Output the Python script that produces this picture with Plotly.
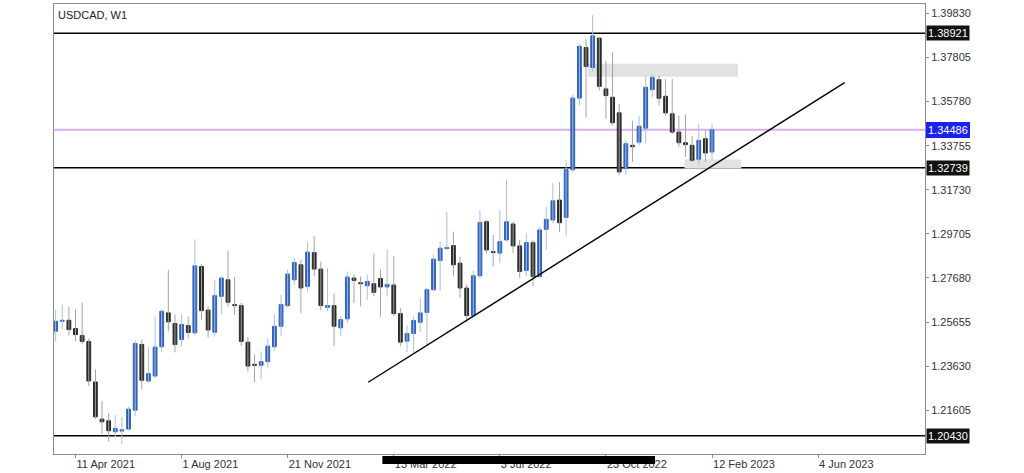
import pandas as pd
import plotly.graph_objects as go

# ---------------- data ----------------
dates = pd.date_range("2021-03-21", periods=100, freq="7D")

open_ = [1.25233, 1.25690, 1.25736, 1.25356, 1.25036, 1.24762, 1.22901, 1.21196, 1.21118, 1.20615,
         1.20647, 1.20738, 1.21607, 1.24625, 1.22947, 1.23175, 1.24520, 1.26074, 1.25585, 1.24853,
         1.25493, 1.25160, 1.28204, 1.26202, 1.25187, 1.26833, 1.27596, 1.26453, 1.26408, 1.24730,
         1.23710, 1.23665, 1.23834, 1.24520, 1.25461, 1.26408, 1.27596, 1.28283, 1.27290, 1.28845,
         1.28086, 1.26330, 1.26408, 1.25388, 1.25800, 1.27674, 1.27459, 1.27322, 1.27413, 1.27656,
         1.27263, 1.27354, 1.26042, 1.24776, 1.25128, 1.25644, 1.26101, 1.27139, 1.28479, 1.29027,
         1.29165, 1.28360, 1.27217, 1.25950, 1.27779, 1.30262, 1.28890, 1.28817, 1.29425, 1.30157,
         1.29151, 1.28022, 1.29302, 1.27747, 1.29914, 1.30340, 1.31254, 1.30463, 1.32649, 1.35940,
         1.38263, 1.37348, 1.38693, 1.36361, 1.35977, 1.35264, 1.32703, 1.33769, 1.33919, 1.34559,
         1.36329, 1.36786, 1.36023, 1.35218, 1.34377, 1.33889, 1.33769, 1.33129, 1.34075, 1.33462]
high = [1.26225, 1.26453, 1.26360, 1.26225, 1.26545, 1.24899, 1.23482, 1.22032, 1.21470, 1.21378,
        1.21287, 1.21758, 1.24821, 1.24853, 1.24487, 1.25905, 1.26225, 1.28054, 1.25996, 1.25996,
        1.25905, 1.29457, 1.28328, 1.26376, 1.27596, 1.27747, 1.28936, 1.27733, 1.26531, 1.24967,
        1.24167, 1.24304, 1.24931, 1.25996, 1.26911, 1.28054, 1.28589, 1.28511, 1.29347, 1.29608,
        1.28433, 1.28131, 1.26956, 1.25918, 1.27976, 1.27828, 1.27747, 1.27828, 1.28785, 1.28054,
        1.29000, 1.28694, 1.26303, 1.25493, 1.25918, 1.26760, 1.27217, 1.28739, 1.29347, 1.30719,
        1.29805, 1.28662, 1.27368, 1.28008, 1.30797, 1.30340, 1.29654, 1.30797, 1.32200, 1.30262,
        1.29425, 1.29732, 1.29425, 1.30033, 1.30948, 1.32045, 1.32091, 1.33083, 1.36100, 1.38418,
        1.38647, 1.39744, 1.38766, 1.37655, 1.38034, 1.35675, 1.33997, 1.34912, 1.35140, 1.36969,
        1.37047, 1.36969, 1.36818, 1.36818, 1.35140, 1.35172, 1.34194, 1.34761, 1.34454, 1.34761]
low = [1.24775, 1.25310, 1.25036, 1.24775, 1.24625, 1.22718, 1.21196, 1.20510, 1.20158, 1.20373,
       1.20053, 1.20661, 1.21346, 1.22567, 1.22874, 1.23070, 1.24272, 1.25233, 1.24259, 1.24547,
       1.24899, 1.25036, 1.25768, 1.24945, 1.24990, 1.25996, 1.26360, 1.25973, 1.24547, 1.23390,
       1.22887, 1.23024, 1.23573, 1.24318, 1.24990, 1.26303, 1.27368, 1.26074, 1.27061, 1.27747,
       1.26193, 1.26147, 1.24547, 1.25004, 1.25617, 1.26531, 1.26376, 1.26682, 1.26833, 1.25891,
       1.26833, 1.25918, 1.24547, 1.24272, 1.24245, 1.25187, 1.24579, 1.27061, 1.27107, 1.28968,
       1.27747, 1.26760, 1.25676, 1.25859, 1.27674, 1.28817, 1.28204, 1.28360, 1.29347, 1.28817,
       1.27674, 1.27747, 1.27290, 1.27674, 1.28968, 1.30189, 1.29805, 1.29576, 1.32548, 1.35597,
       1.35062, 1.37152, 1.36283, 1.34989, 1.34683, 1.32397, 1.32397, 1.33005, 1.33769, 1.33846,
       1.35977, 1.35597, 1.35140, 1.34304, 1.33691, 1.33234, 1.33005, 1.32854, 1.33005, 1.33083]
close = [1.25690, 1.25736, 1.25310, 1.25082, 1.24762, 1.22947, 1.21301, 1.21072, 1.20661, 1.20770,
         1.20706, 1.21653, 1.24670, 1.22979, 1.23285, 1.24501, 1.26147, 1.25662, 1.24625, 1.25539,
         1.25173, 1.28236, 1.26179, 1.25288, 1.26865, 1.27674, 1.26559, 1.26408, 1.24762, 1.23632,
         1.23665, 1.23834, 1.24547, 1.25461, 1.26453, 1.27857, 1.28387, 1.27217, 1.28863, 1.28086,
         1.26408, 1.26408, 1.25461, 1.25768, 1.27720, 1.27564, 1.27413, 1.27519, 1.27016, 1.27263,
         1.27382, 1.26042, 1.24730, 1.25128, 1.25722, 1.26074, 1.27139, 1.28543, 1.29046, 1.29073,
         1.28282, 1.27217, 1.25950, 1.27779, 1.30234, 1.28968, 1.28845, 1.29347, 1.30262, 1.29151,
         1.27976, 1.29302, 1.27747, 1.29882, 1.30372, 1.31222, 1.30216, 1.32658, 1.35940, 1.38318,
         1.37394, 1.38798, 1.36480, 1.36055, 1.34806, 1.32548, 1.33846, 1.33709, 1.34651, 1.36434,
         1.36891, 1.35931, 1.35264, 1.34377, 1.33889, 1.33801, 1.33083, 1.33997, 1.33416, 1.34486]

price_ticks = [1.21605, 1.23630, 1.25655, 1.27680, 1.29705, 1.31730, 1.33755, 1.35780, 1.37805, 1.39830]
date_ticks = ["2021-04-11", "2021-08-01", "2021-11-21", "2022-03-13",
              "2022-07-03", "2022-10-23", "2023-02-12", "2023-06-04"]
date_labels = ["11 Apr 2021", "1 Aug 2021", "21 Nov 2021", "13 Mar 2022",
               "3 Jul 2022", "23 Oct 2022", "12 Feb 2023", "4 Jun 2023"]

levels_black = [1.38921, 1.32739, 1.20430]
level_current = 1.34486

zone_upper = (["2022-10-04", "2023-03-11 12:00"], [1.36923, 1.37518])
zone_lower = (["2023-01-14", "2023-03-15"], [1.32703, 1.33115])
trend_pts = (["2022-02-14", "2023-07-02"], [1.22887, 1.36649])

x_range = ["2021-03-19 07:00", "2023-09-24 21:00"]
y_range = [1.19593, 1.40261]

# ---------------- styling ----------------
BULL = "#2e62b9"
BEAR = "#2a2a2a"
BULL_WICK = "#a9bee4"
BEAR_WICK = "#a3a3a3"
AXIS = "#8c8c8c"
TXT = "#333333"
FONT = "Liberation Sans, Arial, sans-serif"

bull_idx = [i for i in range(len(dates)) if close[i] >= open_[i]]
bear_idx = [i for i in range(len(dates)) if close[i] < open_[i]]


def wick_xy(idx):
    xs, ys = [], []
    for i in idx:
        xs += [dates[i], dates[i], None]
        ys += [low[i], high[i], None]
    return xs, ys


fig = go.Figure()
for idx, col in ((bull_idx, BULL_WICK), (bear_idx, BEAR_WICK)):
    wx, wy = wick_xy(idx)
    fig.add_trace(go.Scatter(x=wx, y=wy, mode="lines", line=dict(color=col, width=1),
                             hoverinfo="skip", showlegend=False))

body_w = 4.0 * 86400000
for idx, col in ((bull_idx, BULL), (bear_idx, BEAR)):
    fig.add_trace(go.Bar(
        x=[dates[i] for i in idx],
        base=[min(open_[i], close[i]) for i in idx],
        y=[abs(close[i] - open_[i]) for i in idx],
        width=[body_w] * len(idx),
        marker=dict(color=col, line=dict(color=col, width=1)),
        showlegend=False, hoverinfo="skip"))

shapes = []
# supply/demand zones
for (zx, zy) in (zone_upper, zone_lower):
    shapes.append(dict(type="rect", xref="x", yref="y", x0=zx[0], x1=zx[1], y0=zy[0], y1=zy[1],
                       fillcolor="#e2e2e2", line=dict(width=0), layer="below"))
# horizontal levels
for lv in levels_black:
    shapes.append(dict(type="line", xref="paper", yref="y", x0=0, x1=1, y0=lv, y1=lv,
                       line=dict(color="#000000", width=1.6), layer="below"))
shapes.append(dict(type="line", xref="paper", yref="y", x0=0, x1=1, y0=level_current, y1=level_current,
                   line=dict(color="#d8b0ea", width=2), layer="below"))
# trend line
shapes.append(dict(type="line", xref="x", yref="y", x0=trend_pts[0][0], x1=trend_pts[0][1],
                   y0=trend_pts[1][0], y1=trend_pts[1][1], line=dict(color="#000000", width=1.4),
                   layer="above"))
# redaction scribble over part of the time axis
shapes.append(dict(type="line", xref="paper", yref="paper", x0=0.377, x1=0.690, y0=-0.0135, y1=-0.0135,
                   line=dict(color="#000000", width=8), layer="above"))

annotations = [dict(text="USDCAD, W1", xref="paper", yref="paper", x=0, y=1, xanchor="left", yanchor="top",
                    xshift=2, yshift=-3, showarrow=False, font=dict(family=FONT, size=11, color="#222222"))]
for lv in levels_black:
    annotations.append(dict(text=f"{lv:.5f}", xref="paper", yref="y", x=1, y=lv, xanchor="left",
                            yanchor="middle", xshift=1, showarrow=False, bgcolor="#111111", borderpad=1,
                            font=dict(family=FONT, size=11, color="#ffffff")))
annotations.append(dict(text=f"{level_current:.5f}", xref="paper", yref="y", x=1, y=level_current,
                        xanchor="left", yanchor="middle", xshift=1, showarrow=False, bgcolor="#1c22ee",
                        bordercolor="#1c22ee", borderpad=1, font=dict(family=FONT, size=11, color="#ffffff")))

fig.update_layout(
    width=1024, height=473,
    margin=dict(l=54, r=99, t=3, b=18),
    paper_bgcolor="#ffffff", plot_bgcolor="#ffffff",
    barmode="overlay", showlegend=False,
    shapes=shapes, annotations=annotations,
    font=dict(family=FONT, size=11, color=TXT),
    xaxis=dict(type="date", range=x_range, showgrid=False, zeroline=False,
               showline=True, linecolor=AXIS, linewidth=1, mirror=True,
               ticks="outside", ticklen=3, tickcolor=AXIS,
               tickvals=date_ticks, ticktext=date_labels, ticklabelposition="outside right",
               tickfont=dict(family=FONT, size=11, color=TXT)),
    yaxis=dict(side="right", range=y_range, showgrid=False, zeroline=False,
               showline=True, linecolor=AXIS, linewidth=1, mirror=True,
               ticks="outside", ticklen=3, tickcolor=AXIS,
               tickvals=price_ticks, ticktext=[f"{v:.5f}" for v in price_ticks],
               tickfont=dict(family=FONT, size=11, color=TXT)),
)

fig.write_html("out.html")
